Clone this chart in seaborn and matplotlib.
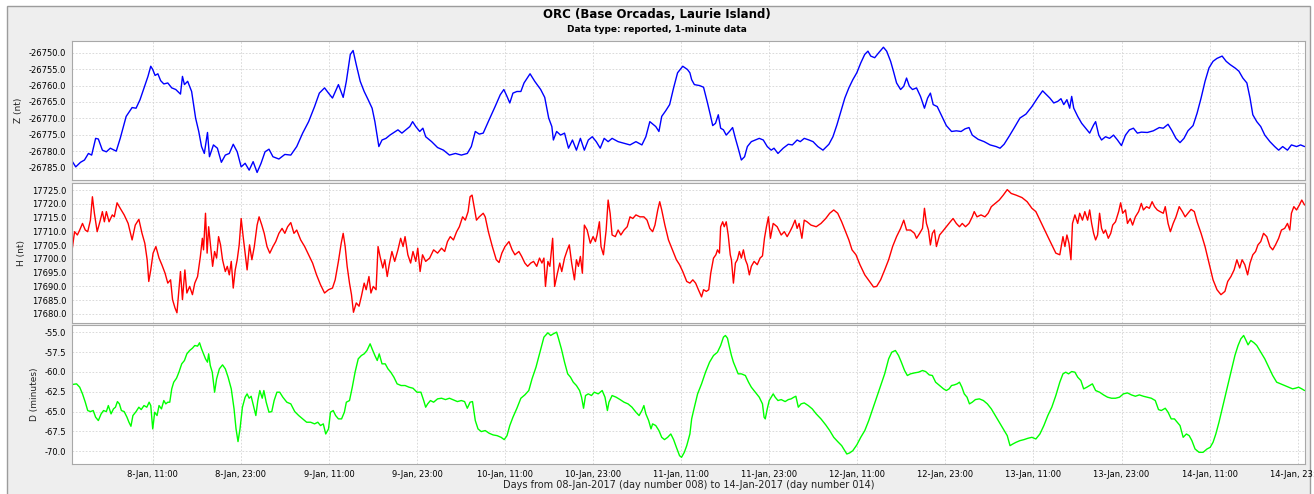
import numpy as np
import pandas as pd
import matplotlib
matplotlib.use("Agg")
import matplotlib.pyplot as plt
import matplotlib.dates as mdates
from matplotlib.ticker import FuncFormatter, MultipleLocator
from matplotlib.patches import Rectangle
import seaborn as sns

sns.set_style("white")
plt.rcParams['font.family'] = ['DejaVu Sans']
plt.rcParams['text.color'] = 'black'
plt.rcParams['axes.labelcolor'] = 'black'

# ---------------- data (hours after 08-Jan-2017 00:00, values) ----------------
z_hours = [
    0.0, 0.51, 1.16, 1.70, 2.24, 2.68, 3.22, 3.59, 4.14, 4.68,
    5.22, 6.03, 6.57, 7.38, 8.19, 8.73, 9.27, 9.81, 10.35, 10.73,
    11.0, 11.32, 11.70, 12.08, 12.51, 13.05, 13.59, 14.14, 14.78, 15.05,
    15.32, 15.76, 16.30, 16.84, 17.27, 17.65, 18.03, 18.46, 18.73, 19.27,
    19.81, 20.35, 20.89, 21.43, 21.97, 22.51, 23.05, 23.59, 24.14, 24.68,
    25.22, 25.76, 26.30, 26.84, 27.38, 28.19, 29.0, 29.81, 30.62, 31.43,
    32.24, 33.05, 33.70, 34.41, 34.95, 35.49, 36.30, 36.95, 37.38, 37.92,
    38.30, 38.73, 39.27, 39.81, 40.35, 40.89, 41.27, 41.59, 41.81, 42.24,
    42.78, 43.32, 43.86, 44.41, 44.95, 45.49, 46.03, 46.41, 46.84, 47.38,
    47.81, 48.19, 49.0, 49.81, 50.62, 51.43, 52.24, 53.05, 53.86, 54.41,
    54.95, 55.49, 56.03, 56.84, 57.65, 58.35, 58.84, 59.27, 59.65, 60.08,
    60.62, 61.16, 61.59, 62.41, 63.05, 63.86, 64.41, 64.95, 65.38, 65.59,
    66.03, 66.57, 67.11, 67.65, 68.19, 68.73, 69.27, 69.81, 70.35, 70.89,
    71.43, 71.97, 72.51, 73.05, 73.59, 74.41, 75.22, 76.03, 76.84, 77.65,
    78.19, 78.73, 79.54, 79.97, 80.35, 80.89, 81.43, 81.97, 82.51, 83.22,
    83.86, 84.19, 84.43, 84.80, 85.51, 86.05, 86.59, 86.97, 87.30, 87.68,
    88.06, 88.38, 88.76, 89.14, 89.58, 90.01, 90.39, 90.77, 91.20, 91.64,
    92.02, 92.56, 93.10, 93.64, 94.19, 94.73, 95.27, 95.65, 96.19, 96.90,
    97.60, 98.15, 98.80, 99.23, 99.77, 100.42, 100.97, 101.62, 102.32, 103.13,
    103.68, 104.22, 104.76, 105.30, 105.85, 106.39, 106.93, 107.47, 108.01, 108.45,
    108.83, 109.37, 109.91, 110.56, 111.00, 111.54, 111.92, 112.35, 112.90, 113.33,
    113.71, 114.09, 114.52, 115.07, 115.61, 116.15, 116.58, 116.96, 117.34, 117.89,
    118.43, 119.13, 119.84, 120.49, 121.14, 121.68, 122.22, 122.66, 123.47, 124.28,
    125.10, 125.91, 126.45, 127.00, 127.65, 128.35, 129.16, 129.98, 130.79, 131.61,
    132.25, 132.69, 133.23, 133.77, 134.32, 134.75, 135.13, 135.56, 135.94, 136.21,
    136.49, 137.03, 137.57, 138.11, 138.66, 139.20, 139.47, 139.90, 140.28, 140.82,
    141.37, 141.91, 142.45, 142.99, 143.54, 144.08, 144.62, 145.16, 145.70, 146.52,
    147.33, 148.15, 148.69, 149.34, 149.88, 150.42, 150.97, 151.51, 152.05, 152.75,
    153.30, 153.84, 154.38, 154.92, 155.47, 156.01, 156.71, 157.26, 157.80, 158.45,
    158.99, 159.53, 160.08, 160.51, 160.89, 161.43, 161.97, 162.52, 163.22, 163.87,
    164.41, 164.96, 165.61, 166.15, 166.85, 167.40, 167.94,
]
z_nt = [
    -26783.0, -26784.8, -26783.4, -26782.7, -26780.7, -26781.2, -26776.1, -26776.3, -26779.7, -26780.2,
    -26779.1, -26780.0, -26776.1, -26769.4, -26766.7, -26766.9, -26764.3, -26760.7, -26757.2, -26754.1,
    -26755.1, -26756.9, -26756.4, -26758.5, -26759.5, -26759.2, -26760.7, -26761.2, -26762.6, -26757.2,
    -26759.7, -26758.7, -26761.8, -26769.9, -26774.0, -26778.6, -26780.7, -26774.3, -26781.7, -26778.1,
    -26779.1, -26783.4, -26781.2, -26780.7, -26777.9, -26780.2, -26784.8, -26783.7, -26785.8, -26783.2,
    -26786.5, -26783.7, -26780.2, -26779.4, -26781.7, -26782.4, -26781.0, -26781.2, -26778.6, -26774.5,
    -26771.0, -26766.4, -26762.3, -26760.7, -26762.3, -26763.8, -26759.7, -26763.6, -26758.7, -26750.5,
    -26749.3, -26753.6, -26758.7, -26761.8, -26764.3, -26766.9, -26771.0, -26775.6, -26778.6, -26776.6,
    -26776.1, -26775.1, -26774.3, -26773.5, -26774.5, -26773.5, -26772.5, -26771.0, -26772.5, -26774.0,
    -26773.0, -26775.6, -26777.1, -26778.9, -26779.7, -26781.2, -26780.7, -26781.2, -26780.7, -26778.6,
    -26774.0, -26774.8, -26774.5, -26770.4, -26766.4, -26762.8, -26761.2, -26763.3, -26765.3, -26762.3,
    -26761.8, -26761.8, -26759.2, -26756.4, -26758.7, -26761.2, -26763.6, -26769.9, -26772.5, -26776.6,
    -26774.0, -26775.1, -26774.5, -26779.1, -26776.6, -26779.7, -26776.1, -26779.7, -26776.6, -26775.6,
    -26777.1, -26779.1, -26776.1, -26777.1, -26776.1, -26777.1, -26777.6, -26778.1, -26777.1, -26778.1,
    -26775.6, -26771.0, -26772.5, -26774.0, -26769.4, -26767.7, -26765.8, -26760.7, -26756.1, -26754.1,
    -26755.1, -26756.1, -26758.2, -26759.7, -26760.0, -26760.5, -26765.3, -26768.9, -26772.2, -26771.5,
    -26768.9, -26773.0, -26773.5, -26775.1, -26774.0, -26772.8, -26776.1, -26779.1, -26782.7, -26781.7,
    -26778.6, -26777.1, -26776.6, -26776.1, -26776.6, -26778.6, -26779.7, -26779.1, -26780.7, -26779.1,
    -26777.9, -26778.1, -26776.6, -26777.1, -26776.1, -26776.6, -26777.1, -26778.6, -26779.7, -26777.9,
    -26775.6, -26772.0, -26767.9, -26763.8, -26760.7, -26758.2, -26756.1, -26753.1, -26750.5, -26749.5,
    -26751.0, -26751.5, -26750.0, -26748.3, -26749.5, -26752.6, -26755.6, -26759.2, -26761.2, -26760.2,
    -26757.7, -26760.2, -26761.2, -26760.7, -26763.3, -26766.9, -26763.8, -26762.3, -26765.8, -26766.4,
    -26768.9, -26772.2, -26774.0, -26773.8, -26774.0, -26773.2, -26772.8, -26775.1, -26776.4, -26777.1,
    -26778.1, -26778.6, -26779.1, -26777.9, -26775.6, -26773.0, -26769.9, -26768.7, -26766.4, -26763.6,
    -26761.6, -26762.6, -26763.8, -26765.3, -26764.8, -26764.0, -26765.8, -26764.3, -26766.9, -26763.3,
    -26766.9, -26769.4, -26771.5, -26773.0, -26774.5, -26772.0, -26771.0, -26775.1, -26776.6, -26775.6,
    -26776.1, -26775.1, -26776.6, -26778.3, -26775.1, -26773.5, -26773.0, -26774.5, -26774.2, -26774.3,
    -26773.8, -26772.8, -26773.0, -26771.8, -26773.8, -26776.1, -26777.4, -26776.1, -26773.8, -26772.2,
    -26768.4, -26763.8, -26758.7, -26754.6, -26752.6, -26751.7, -26751.0, -26752.6, -26753.6, -26754.6,
    -26755.6, -26757.7, -26759.2, -26763.8, -26768.9, -26771.0, -26772.5, -26775.1, -26777.1, -26778.6,
    -26779.7, -26778.6, -26779.7, -26778.1, -26778.6, -26778.1, -26778.6,
]

h_hours = [
    0.0, 0.35, 0.73, 1.05, 1.43, 1.81, 2.14, 2.51, 2.78, 3.05,
    3.43, 3.86, 4.14, 4.41, 4.68, 5.05, 5.49, 5.76, 6.14, 6.57,
    7.11, 7.65, 8.19, 8.62, 9.11, 9.54, 9.92, 10.24, 10.46, 10.73,
    11.05, 11.43, 11.86, 12.24, 12.68, 13.05, 13.43, 13.70, 14.03, 14.30,
    14.57, 14.78, 15.05, 15.38, 15.65, 16.03, 16.41, 16.73, 17.11, 17.49,
    17.76, 17.92, 18.19, 18.41, 18.62, 18.89, 19.16, 19.43, 19.70, 19.97,
    20.24, 20.51, 20.89, 21.16, 21.43, 21.70, 21.97, 22.24, 22.51, 22.78,
    23.05, 23.32, 23.59, 23.86, 24.19, 24.51, 24.84, 25.22, 25.49, 25.86,
    26.19, 26.57, 26.95, 27.38, 27.76, 28.19, 28.62, 29.0, 29.38, 29.81,
    30.24, 30.62, 31.16, 31.70, 32.24, 32.78, 33.32, 33.86, 34.41, 34.95,
    35.49, 35.86, 36.30, 36.68, 36.95, 37.22, 37.49, 37.81, 38.08, 38.35,
    38.73, 39.11, 39.43, 39.81, 40.08, 40.46, 40.73, 41.05, 41.43, 41.70,
    41.97, 42.35, 42.62, 42.95, 43.22, 43.59, 43.97, 44.41, 44.78, 45.11,
    45.38, 45.76, 46.14, 46.46, 46.84, 47.11, 47.43, 47.76, 48.19, 48.73,
    49.27, 49.81, 50.35, 50.78, 51.16, 51.54, 51.97, 52.41, 52.78, 53.22,
    53.59, 53.97, 54.24, 54.51, 54.78, 55.11, 55.49, 56.03, 56.30, 56.73,
    57.27, 57.81, 58.19, 58.57, 59.0, 59.54, 59.97, 60.35, 60.89, 61.27,
    61.70, 62.08, 62.51, 62.89, 63.32, 63.70, 64.03, 64.30, 64.51, 64.84,
    65.11, 65.49, 65.76, 66.14, 66.46, 66.73, 67.11, 67.49, 67.76, 68.08,
    68.46, 68.73, 69.0, 69.27, 69.54, 69.81, 70.19, 70.62, 71.0, 71.32,
    71.54, 71.86, 72.08, 72.41, 72.78, 73.05, 73.32, 73.59, 74.03, 74.41,
    74.78, 75.22, 75.65, 76.03, 76.41, 76.84, 77.38, 77.92, 78.35, 78.73,
    79.11, 79.43, 79.81, 80.08, 80.35, 80.78, 81.27, 81.81, 82.35, 82.78,
    83.22, 83.76, 84.19, 84.59, 84.97, 85.35, 85.78, 86.05, 86.43, 86.76,
    87.03, 87.41, 87.73, 87.95, 88.22, 88.38, 88.66, 88.87, 89.14, 89.41,
    89.69, 89.85, 90.12, 90.39, 90.66, 90.93, 91.20, 91.48, 91.75, 92.02,
    92.29, 92.56, 92.94, 93.37, 93.75, 94.08, 94.35, 94.62, 94.89, 95.16,
    95.54, 96.08, 96.63, 97.06, 97.44, 97.82, 98.15, 98.52, 98.80, 99.07,
    99.45, 99.77, 100.15, 100.69, 101.40, 102.05, 102.70, 103.24, 103.79, 104.33,
    104.87, 105.41, 105.85, 106.28, 106.82, 107.36, 108.02, 108.67, 109.21, 109.64,
    110.18, 110.73, 111.27, 111.81, 112.35, 112.90, 113.33, 113.71, 114.25, 114.79,
    115.07, 115.50, 115.88, 116.15, 116.42, 116.69, 116.96, 117.23, 117.51, 117.78,
    118.21, 118.59, 119.13, 119.67, 120.05, 120.49, 120.92, 121.30, 121.74, 122.22,
    122.66, 122.93, 123.31, 123.85, 124.39, 124.83, 125.26, 125.80, 126.34, 126.89,
    127.43, 127.97, 128.62, 129.44, 130.14, 130.79, 131.33, 131.88, 132.42, 132.96,
    133.50, 134.05, 134.59, 135.02, 135.29, 135.56, 135.84, 136.11, 136.32, 136.65,
    137.03, 137.30, 137.68, 138.00, 138.38, 138.66, 138.93, 139.20, 139.47, 139.74,
    140.01, 140.28, 140.55, 140.82, 141.20, 141.53, 141.80, 142.18, 142.61, 142.88,
    143.16, 143.54, 143.81, 144.19, 144.51, 144.89, 145.33, 145.70, 145.98, 146.41,
    146.79, 147.17, 147.50, 147.87, 148.25, 148.69, 148.96, 149.34, 149.66, 150.04,
    150.42, 150.86, 151.29, 151.67, 152.05, 152.48, 152.92, 153.30, 153.84, 154.38,
    154.92, 155.47, 156.01, 156.55, 157.09, 157.47, 157.91, 158.34, 158.72, 159.10,
    159.43, 159.80, 160.18, 160.51, 160.89, 161.27, 161.59, 161.97, 162.35, 162.79,
    163.22, 163.60, 163.98, 164.41, 164.79, 165.23, 165.61, 165.93, 166.15, 166.48,
    166.85, 167.23, 167.56, 167.94,
]
h_nt = [
    17703.0, 17709.9, 17708.7, 17710.5, 17712.9, 17710.5, 17709.9, 17714.1, 17722.6, 17716.6,
    17709.9, 17714.1, 17717.2, 17713.5, 17717.2, 17713.5, 17716.0, 17715.3, 17720.4, 17718.4,
    17716.0, 17712.9, 17706.9, 17712.3, 17714.4, 17709.3, 17705.7, 17699.7, 17691.8, 17696.0,
    17702.1, 17704.5, 17700.3, 17697.9, 17694.8, 17691.2, 17692.4, 17685.2, 17682.2, 17680.4,
    17688.8, 17695.4, 17685.2, 17696.0, 17687.6, 17690.0, 17687.0, 17691.2, 17693.6, 17700.9,
    17707.5, 17703.3, 17716.6, 17702.1, 17711.7, 17704.5, 17697.3, 17702.7, 17700.3, 17708.1,
    17705.1, 17699.7, 17695.4, 17697.3, 17694.2, 17699.1, 17689.4, 17696.0, 17699.7, 17705.1,
    17714.7, 17708.1, 17702.1, 17696.0, 17705.1, 17699.7, 17704.5, 17712.3, 17715.3, 17712.3,
    17709.3, 17704.5, 17702.1, 17704.5, 17706.3, 17709.3, 17711.1, 17709.3, 17711.7, 17713.2,
    17709.3, 17710.5, 17706.9, 17704.5, 17701.5, 17698.5, 17694.2, 17690.6, 17687.6, 17688.8,
    17689.4, 17692.4, 17699.1, 17705.7, 17709.3, 17704.5, 17697.3, 17691.2, 17687.0, 17680.6,
    17684.0, 17682.8, 17686.4, 17691.2, 17688.8, 17693.6, 17687.6, 17690.0, 17688.8, 17704.5,
    17700.9, 17696.7, 17699.7, 17693.6, 17697.9, 17702.7, 17699.1, 17703.3, 17707.5, 17704.5,
    17708.1, 17701.5, 17698.5, 17702.7, 17699.1, 17703.9, 17695.4, 17701.5, 17699.1, 17700.3,
    17703.3, 17702.1, 17703.9, 17702.7, 17706.3, 17708.1, 17706.9, 17709.9, 17711.7, 17715.3,
    17714.1, 17717.2, 17722.6, 17723.2, 17719.0, 17714.1, 17715.3, 17716.6, 17715.3, 17709.9,
    17704.5, 17699.7, 17698.7, 17702.1, 17704.5, 17706.3, 17703.3, 17701.5, 17702.7, 17700.9,
    17698.5, 17697.3, 17698.5, 17699.1, 17697.3, 17700.3, 17698.5, 17700.3, 17690.0, 17699.1,
    17697.3, 17707.5, 17690.0, 17694.8, 17698.5, 17695.4, 17700.3, 17703.3, 17705.1, 17698.5,
    17692.4, 17699.7, 17697.3, 17700.9, 17694.8, 17712.3, 17710.5, 17705.7, 17708.1, 17706.3,
    17708.7, 17713.5, 17704.5, 17701.5, 17710.5, 17721.4, 17716.6, 17708.7, 17708.1, 17710.5,
    17708.7, 17710.5, 17711.7, 17715.3, 17714.7, 17716.0, 17715.3, 17715.3, 17714.1, 17711.1,
    17709.9, 17712.3, 17717.8, 17720.8, 17717.8, 17712.3, 17706.9, 17703.3, 17699.7, 17697.9,
    17695.4, 17691.8, 17691.2, 17692.4, 17691.2, 17688.8, 17686.2, 17688.8, 17688.2, 17688.8,
    17694.8, 17700.3, 17701.5, 17703.3, 17702.1, 17711.7, 17713.5, 17711.7, 17713.5, 17708.7,
    17701.5, 17699.7, 17691.2, 17698.5, 17699.7, 17702.7, 17700.3, 17703.3, 17699.7, 17697.9,
    17694.2, 17697.3, 17699.1, 17697.9, 17700.3, 17701.1, 17707.5, 17711.7, 17715.3, 17707.5,
    17712.9, 17711.7, 17708.7, 17709.9, 17708.1, 17709.9, 17711.7, 17714.1, 17711.1, 17712.9,
    17707.5, 17714.1, 17713.5, 17712.3, 17711.7, 17712.9, 17714.7, 17716.6, 17717.8, 17716.6,
    17713.5, 17709.9, 17706.9, 17703.3, 17701.5, 17697.9, 17694.2, 17691.8, 17689.8, 17690.0,
    17692.4, 17696.0, 17699.7, 17704.5, 17708.1, 17711.1, 17714.1, 17710.5, 17710.5, 17709.3,
    17707.5, 17709.3, 17711.1, 17718.4, 17712.9, 17710.5, 17705.1, 17709.3, 17710.5, 17704.5,
    17708.7, 17709.9, 17711.7, 17713.5, 17714.7, 17712.9, 17711.7, 17712.9, 17711.7, 17712.9,
    17715.3, 17717.2, 17715.3, 17716.0, 17715.3, 17716.6, 17719.0, 17720.2, 17721.4, 17723.2,
    17725.2, 17723.8, 17723.2, 17722.3, 17720.8, 17718.4, 17717.2, 17714.1, 17711.1, 17708.1,
    17705.1, 17702.1, 17701.5, 17708.1, 17704.5, 17708.7, 17705.7, 17699.7, 17712.9, 17716.0,
    17712.9, 17716.6, 17714.1, 17717.2, 17714.1, 17717.8, 17712.9, 17709.3, 17706.9, 17708.7,
    17716.6, 17711.1, 17709.3, 17710.5, 17707.5, 17709.3, 17712.3, 17713.5, 17717.2, 17720.4,
    17716.6, 17717.8, 17712.9, 17714.7, 17712.3, 17715.3, 17717.2, 17720.2, 17717.8, 17719.0,
    17718.4, 17720.8, 17719.0, 17717.8, 17717.2, 17716.6, 17719.0, 17712.9, 17709.9, 17712.9,
    17715.3, 17719.0, 17717.2, 17715.3, 17716.6, 17718.0, 17717.2, 17713.5, 17709.3, 17704.5,
    17698.5, 17692.4, 17688.8, 17687.0, 17688.2, 17691.8, 17693.6, 17696.0, 17699.7, 17696.7,
    17699.7, 17697.9, 17694.2, 17698.5, 17701.5, 17702.7, 17705.1, 17706.3, 17709.3, 17708.1,
    17704.5, 17703.3, 17705.1, 17707.5, 17710.5, 17711.1, 17712.9, 17710.5, 17716.6, 17719.0,
    17717.8, 17719.6, 17721.4, 17719.6,
]

d_hours = [
    0.0, 0.62, 1.05, 1.43, 1.81, 2.14, 2.51, 2.89, 3.22, 3.59,
    3.97, 4.30, 4.68, 4.95, 5.32, 5.65, 5.92, 6.19, 6.46, 6.73,
    7.11, 7.49, 7.76, 8.03, 8.30, 8.73, 9.11, 9.43, 9.81, 10.19,
    10.51, 10.73, 11.0, 11.27, 11.59, 11.86, 12.19, 12.51, 12.78, 13.05,
    13.32, 13.59, 13.86, 14.24, 14.57, 14.95, 15.32, 15.65, 16.03, 16.41,
    16.73, 17.11, 17.38, 17.65, 17.92, 18.19, 18.46, 18.62, 18.84, 19.11,
    19.43, 19.70, 20.08, 20.51, 20.89, 21.27, 21.70, 22.08, 22.35, 22.62,
    22.89, 23.22, 23.59, 23.86, 24.14, 24.41, 24.78, 25.05, 25.32, 25.59,
    25.92, 26.14, 26.46, 26.84, 27.22, 27.54, 27.92, 28.30, 28.73, 29.27,
    29.81, 30.35, 30.89, 31.43, 31.97, 32.51, 33.05, 33.49, 33.86, 34.24,
    34.57, 34.95, 35.22, 35.59, 35.92, 36.30, 36.73, 37.11, 37.38, 37.81,
    38.19, 38.57, 39.0, 39.43, 39.81, 40.19, 40.62, 40.89, 41.27, 41.59,
    41.86, 42.24, 42.68, 43.05, 43.43, 43.86, 44.30, 44.84, 45.38, 45.92,
    46.46, 47.0, 47.54, 47.92, 48.19, 48.46, 48.84, 49.27, 49.81, 50.35,
    50.89, 51.43, 51.97, 52.51, 53.05, 53.49, 53.86, 54.24, 54.57, 54.95,
    55.32, 55.76, 56.30, 56.84, 57.38, 57.92, 58.46, 58.89, 59.27, 59.65,
    60.08, 60.62, 61.16, 61.70, 62.24, 62.68, 63.22, 63.76, 64.30, 64.84,
    65.22, 65.59, 66.03, 66.30, 66.68, 67.11, 67.54, 67.92, 68.30, 68.73,
    69.16, 69.43, 69.70, 69.97, 70.35, 70.78, 71.16, 71.70, 72.24, 72.62,
    72.95, 73.16, 73.59, 74.14, 74.68, 75.22, 75.76, 76.30, 76.84, 77.27,
    77.65, 77.92, 78.19, 78.57, 78.89, 79.11, 79.54, 79.97, 80.35, 80.73,
    81.16, 81.59, 81.97, 82.35, 82.78, 83.05, 83.43, 83.76, 84.19, 84.43,
    84.80, 85.24, 85.78, 86.32, 86.87, 87.41, 87.95, 88.38, 88.76, 89.03,
    89.31, 89.58, 89.85, 90.12, 90.50, 90.77, 91.20, 91.75, 92.18, 92.56,
    93.10, 93.64, 94.08, 94.30, 94.46, 94.73, 95.00, 95.27, 95.54, 95.81,
    96.19, 96.63, 97.17, 97.60, 97.98, 98.36, 98.63, 98.96, 99.34, 99.77,
    100.31, 100.86, 101.40, 102.05, 102.70, 103.24, 103.79, 104.33, 104.87, 105.30,
    105.57, 105.95, 106.39, 106.93, 107.47, 108.02, 108.56, 109.10, 109.64, 110.18,
    110.73, 111.27, 111.70, 112.19, 112.62, 113.00, 113.44, 113.82, 114.25, 114.79,
    115.34, 115.88, 116.31, 116.80, 117.23, 117.67, 118.21, 118.75, 119.13, 119.51,
    119.84, 120.22, 120.60, 120.92, 121.25, 121.57, 121.95, 122.28, 122.66, 123.09,
    123.63, 124.18, 124.72, 125.26, 125.80, 126.34, 126.89, 127.43, 127.81, 128.19,
    128.62, 129.16, 129.71, 130.25, 130.79, 131.33, 131.88, 132.42, 132.96, 133.50,
    134.05, 134.59, 135.02, 135.40, 135.78, 136.21, 136.65, 137.03, 137.46, 137.84,
    138.28, 138.66, 139.03, 139.47, 140.01, 140.55, 141.10, 141.64, 142.18, 142.72,
    143.26, 143.81, 144.35, 144.89, 145.43, 145.98, 146.52, 147.06, 147.60, 148.04,
    148.42, 148.96, 149.34, 149.77, 150.21, 150.59, 150.97, 151.40, 151.84, 152.22,
    152.59, 153.02, 153.57, 154.11, 154.65, 155.08, 155.47, 155.85, 156.28, 156.71,
    157.15, 157.58, 158.02, 158.45, 158.88, 159.26, 159.64, 159.97, 160.24, 160.62,
    161.05, 161.43, 161.97, 162.52, 163.06, 163.60, 164.14, 164.69, 165.23, 165.77,
    166.31, 166.69, 167.13, 167.56, 167.94,
]
d_minutes = [
    -61.60, -61.51, -61.93, -62.77, -63.82, -64.87, -65.00, -64.87, -65.71, -66.13,
    -65.29, -64.87, -65.00, -64.24, -65.29, -64.66, -64.45, -63.74, -64.03, -64.87,
    -65.00, -65.71, -66.34, -66.85, -65.50, -65.00, -64.45, -64.75, -64.24, -64.45,
    -63.82, -64.24, -67.18, -65.08, -65.50, -64.24, -64.66, -63.61, -64.03, -63.82,
    -63.82, -62.14, -61.30, -60.80, -60.04, -58.99, -58.57, -57.73, -57.31, -57.02,
    -56.68, -56.76, -56.34, -57.10, -57.73, -58.36, -58.78, -57.73, -59.20, -60.04,
    -62.56, -60.88, -59.62, -59.12, -59.62, -60.67, -62.14, -64.66, -67.18, -68.78,
    -67.18, -64.45, -63.19, -62.77, -63.32, -63.07, -64.45, -65.50, -63.61, -62.35,
    -63.32, -62.35, -63.82, -65.08, -65.00, -63.61, -62.56, -62.56, -63.19, -63.82,
    -64.03, -65.00, -65.50, -65.92, -66.34, -66.34, -66.55, -66.34, -66.76, -66.55,
    -67.82, -67.18, -65.08, -64.87, -65.50, -65.92, -65.92, -65.08, -63.82, -63.61,
    -61.93, -60.04, -58.36, -57.94, -57.73, -57.31, -56.47, -57.10, -57.94, -58.57,
    -57.73, -58.99, -58.99, -59.62, -60.04, -60.67, -61.51, -61.72, -61.72, -61.93,
    -62.06, -62.56, -62.56, -63.61, -64.45, -64.03, -63.61, -63.82, -63.40, -63.32,
    -63.49, -63.32, -63.53, -63.74, -63.61, -63.74, -64.58, -63.82, -63.74, -66.13,
    -67.18, -67.52, -67.39, -67.73, -67.94, -68.03, -68.24, -68.53, -68.03, -66.76,
    -65.71, -64.58, -63.32, -62.90, -62.35, -60.88, -59.41, -57.52, -55.63, -55.08,
    -55.42, -55.21, -55.00, -55.84, -57.10, -58.78, -60.25, -60.67, -61.30, -61.72,
    -62.35, -63.19, -64.58, -62.98, -62.77, -62.98, -62.56, -62.77, -62.35, -63.19,
    -64.87, -63.82, -62.98, -63.19, -63.49, -63.82, -64.03, -64.45, -65.08, -65.50,
    -64.87, -64.24, -65.29, -66.13, -67.18, -66.55, -66.76, -67.39, -68.24, -68.53,
    -68.24, -67.82, -68.53, -69.50, -70.55, -70.76, -70.13, -69.29, -67.82, -65.92,
    -64.45, -62.77, -61.51, -60.04, -58.78, -57.94, -57.52, -56.68, -55.63, -55.42,
    -55.76, -56.89, -57.94, -58.78, -59.62, -60.25, -60.25, -60.46, -61.30, -61.93,
    -62.56, -63.19, -64.03, -65.71, -65.92, -64.66, -63.61, -63.19, -62.77, -63.19,
    -63.61, -63.49, -63.74, -63.49, -63.40, -63.19, -63.07, -64.45, -64.03, -63.91,
    -64.24, -64.66, -65.29, -65.92, -66.68, -67.39, -68.24, -68.78, -69.29, -69.92,
    -70.34, -70.21, -69.92, -69.20, -68.24, -67.39, -66.13, -64.66, -63.19, -61.72,
    -60.25, -58.36, -57.52, -57.31, -57.94, -58.78, -59.83, -60.46, -60.25, -60.13,
    -60.04, -59.83, -59.96, -60.38, -60.46, -61.30, -61.72, -62.14, -62.35, -62.14,
    -61.72, -61.64, -61.51, -61.30, -61.93, -62.77, -63.19, -64.03, -63.82, -63.49,
    -63.40, -63.61, -64.03, -64.66, -65.50, -66.34, -67.18, -68.03, -69.29, -69.08,
    -68.87, -68.66, -68.53, -68.36, -68.24, -68.45, -67.82, -66.76, -65.50, -64.45,
    -62.98, -61.30, -60.25, -60.04, -60.25, -59.96, -60.04, -60.67, -61.09, -62.14,
    -61.93, -61.72, -61.51, -62.35, -62.56, -62.90, -63.19, -63.32, -63.32, -63.19,
    -62.77, -62.65, -62.90, -63.07, -62.90, -63.07, -63.19, -63.32, -63.61, -64.75,
    -64.87, -64.58, -65.08, -65.92, -65.92, -66.34, -66.76, -68.24, -67.82, -68.03,
    -68.66, -69.71, -70.13, -70.13, -69.71, -69.50, -68.87, -67.82, -66.34, -64.66,
    -62.98, -61.30, -59.62, -57.94, -56.68, -55.84, -55.42, -56.05, -56.60, -56.05,
    -56.34, -56.68, -57.52, -58.36, -59.41, -60.46, -61.30, -61.51, -61.72, -61.93,
    -62.14, -62.06, -61.93, -62.14, -62.35,
]

x_ticks_hours = [11, 23]
title_text = "ORC (Base Orcadas, Laurie Island)"
subtitle_text = "Data type: reported, 1-minute data"
x_label_text = "Days from 08-Jan-2017 (day number 008) to 14-Jan-2017 (day number 014)"

# ---------------- figure ----------------
start = pd.Timestamp("2017-01-08 00:00")
end = pd.Timestamp("2017-01-15 00:00")


def frame(hours, values, name):
    return pd.DataFrame({"time": start + pd.to_timedelta(np.asarray(hours), unit="h"),
                         name: values})


W, H = 1314, 494
fig = plt.figure(figsize=(W / 100, H / 100), dpi=100)
fig.patch.set_facecolor("white")
bg = Rectangle((7 / W, -0.02), (1310 - 7) / W, 1 - 6 / H + 0.02,
               transform=fig.transFigure, facecolor="#eeeeee",
               edgecolor="#9c9c9c", linewidth=1.0, zorder=-10)
fig.add_artist(bg)

left, width = 72 / W, (1305 - 72) / W
axZ = fig.add_axes([left, 1 - 180 / H, width, 139 / H])
axH = fig.add_axes([left, 1 - 323 / H, width, 140 / H], sharex=axZ)
axD = fig.add_axes([left, 1 - 464 / H, width, 139 / H], sharex=axZ)

panels = [
    (axZ, frame(z_hours, z_nt, "Z"), "Z", "#0000ff", (-26788.8, -26746.4), 5, "Z (nt)"),
    (axH, frame(h_hours, h_nt, "H"), "H", "#ff0000", (17676.7, 17727.6), 5, "H (nt)"),
    (axD, frame(d_hours, d_minutes, "D"), "D", "#00ff00", (-71.6, -54.1), 2.5, "D (minutes)"),
]

for ax, df, col, color, ylim, step, ylabel in panels:
    ax.set_zorder(1)
    sns.lineplot(data=df, x="time", y=col, ax=ax, color=color, linewidth=1.0)
    ax.set_facecolor("white")
    ax.set_ylim(*ylim)
    ax.yaxis.set_major_locator(MultipleLocator(step))
    ax.yaxis.set_major_formatter(FuncFormatter(lambda v, p: f"{v:.1f}"))
    ax.grid(True, color="#d4d4d4", linestyle=(0, (2, 2)), linewidth=0.6)
    ax.set_axisbelow(True)
    for s in ax.spines.values():
        s.set_color("#a8a8a8")
        s.set_linewidth(0.8)
    ax.tick_params(axis="both", labelsize=6, length=2, color="#888888",
                   labelcolor="black", pad=2)
    ax.set_ylabel(ylabel, fontsize=6.5, labelpad=4, color="#222222")
    ax.set_xlabel("")

axD.set_xlim(start, end)
axD.xaxis.set_major_locator(mdates.HourLocator(byhour=x_ticks_hours))


def fmt_date(v, p):
    d = mdates.num2date(v)
    return f"{d.day}-{d:%b}, {d:%H:%M}"


axD.xaxis.set_major_formatter(FuncFormatter(fmt_date))
for ax in (axZ, axH):
    ax.tick_params(axis="x", labelbottom=False)
axD.set_xlabel(x_label_text, fontsize=7, labelpad=1, color="#222222")

fig.text(0.5, 1 - 15 / H, title_text, ha="center", va="center",
         fontsize=8.5, fontweight="bold", color="black", zorder=5)
fig.text(0.5, 1 - 30 / H, subtitle_text, ha="center", va="center",
         fontsize=6.5, fontweight="bold", color="black", zorder=5)

fig.savefig("out.png", dpi=100)
